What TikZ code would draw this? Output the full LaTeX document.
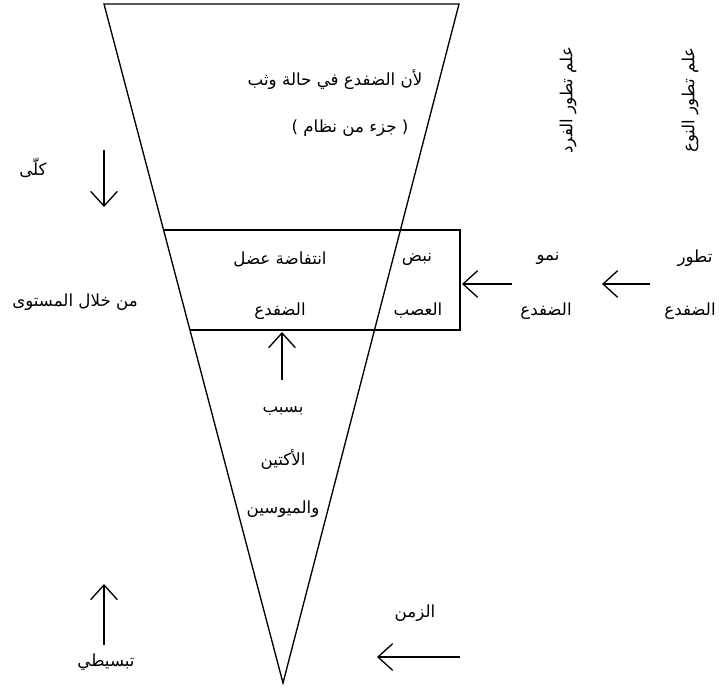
\documentclass[tikz,border=0pt]{standalone}
\usepackage{fontspec}
\usepackage{tikz}
\usetikzlibrary{positioning,arrows.meta,calc}
\newfontfamily\arabicfont[Script=Arabic]{DejaVu Sans}
\TeXXeTstate=1
\newcommand{\rtl}[1]{\beginR #1\endR}

\begin{document}
\begin{tikzpicture}[x=0.75pt,y=-0.75pt,font=\arabicfont\fontsize{12.5}{15}\selectfont,
  lbl/.style={inner sep=1pt},
  side/.style={inner sep=1pt,rotate=90},
  arr/.style={-{Straight Barb[length=11pt,width=20pt]},line width=1pt}]
  \useasboundingbox (0,0) rectangle (725,688);
  % the cone and the box across it
  \coordinate (tl) at (104,4);
  \coordinate (tr) at (459,4);
  \coordinate (apex) at (283,683);
  \coordinate (bl) at ($(tl)!0.333!(apex)$);
  \coordinate (bb) at ($(tl)!0.480!(apex)$);
  \draw[line width=1pt] (tl) -- (tr) -- (apex) -- cycle;
  \draw[line width=1pt] (bl) -- (bl -| 460,0) -- (bb -| 460,0) -- (bb);
  % texts in the cone
  \node[lbl] (why) at (335,80) {\rtl{لأن الضفدع في حالة وثب}};
  \node[lbl] (part) at (350,128) {\rtl{( جزء من نظام )}};
  \node[lbl] (muscle) at (280,259) {\rtl{انتفاضة عضل}};
  \node[lbl] (muscleb) at (280,311) {\rtl{الضفدع}};
  \node[lbl] (nerve) at (417,259) {\rtl{نبض}};
  \node[lbl] (nerveb) at (418,311) {\rtl{العصب}};
  \node[lbl] (cause) at (283,411) {\rtl{بسبب}};
  \node[lbl] (actin) at (283,460) {\rtl{الأكتين}};
  \node[lbl] (myosin) at (283,509) {\rtl{والميوسين}};
  % texts outside
  \node[side] (fard) at (568,100) {\rtl{علم تطور الفرد}};
  \node[side] (naw) at (690,100) {\rtl{علم تطور النوع}};
  \node[lbl] (growth) at (548,258) {\rtl{نمو}};
  \node[lbl] (growthb) at (546,311) {\rtl{الضفدع}};
  \node[lbl] (evol) at (695,258) {\rtl{تطور}};
  \node[lbl] (evolb) at (690,311) {\rtl{الضفدع}};
  \node[lbl] (whole) at (33,168) {\rtl{كلّى}};
  \node[lbl] (level) at (75,302) {\rtl{من خلال المستوى}};
  \node[lbl] (simple) at (106,662) {\rtl{تبسيطي}};
  \node[lbl] (time) at (415,613) {\rtl{الزمن}};
  % arrows
  \coordinate (d1) at (104,150);  \coordinate (d2) at (104,207);
  \coordinate (u1) at (282,380);  \coordinate (u2) at (282,332);
  \coordinate (g1) at (512,284);  \coordinate (g2) at (462,284);
  \coordinate (e1) at (650,284);  \coordinate (e2) at (602,284);
  \coordinate (s1) at (104,645);  \coordinate (s2) at (104,584);
  \coordinate (t1) at (460,657);  \coordinate (t2) at (377,657);
  \foreach \a/\b in {d1/d2,u1/u2,g1/g2,e1/e2,s1/s2,t1/t2} \draw[arr] (\a) -- (\b);
\end{tikzpicture}
\end{document}
